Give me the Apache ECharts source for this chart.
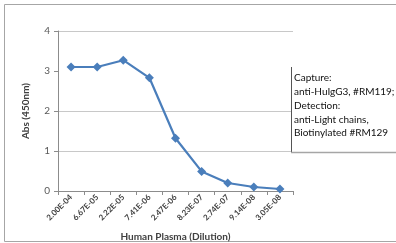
<!DOCTYPE html>
<html>
<head>
<meta charset="utf-8">
<script src="https://cdn.jsdelivr.net/npm/echarts@6/dist/echarts.min.js"></script>
<style>
    html, body {margin: 0; padding: 0; background: #fff;}
    #main {width: 396px; height: 243px;}
</style>
</head>
<body>
<div id="main"></div>
<script>
// dilutions on x axis
var dilutions = ['2.00E-04', '6.67E-05', '2.22E-05', '7.41E-06', '2.47E-06', '8.23E-07', '2.74E-07', '9.14E-08', '3.05E-08'];
// absorbance at 450nm
var absValues = [3.10, 3.10, 3.27, 2.83, 1.32, 0.49, 0.20, 0.10, 0.05];
var yTicks = [0, 1, 2, 3, 4];
var noteLines = ['Capture:', 'anti-HuIgG3, #RM119;', 'Detection:', 'anti-Light chains,', 'Biotinylated #RM129'];

var font = 'Lato, "Open Sans", sans-serif';

var chart = echarts.init(document.getElementById('main'));

var option = {
    animation: false,
    backgroundColor: '#fff',
    grid: {left: 58, right: 103, top: 31, bottom: 52, containLabel: false, outerBoundsMode: 'none'},
    xAxis: {
        type: 'category',
        data: dilutions,
        boundaryGap: true,
        name: 'Human Plasma (Dilution)',
        nameLocation: 'middle',
        nameGap: 41,
        nameTextStyle: {fontFamily: font, fontSize: 10, fontWeight: 'bold', color: '#404040'},
        axisLine: {lineStyle: {color: '#8c8c8c'}},
        axisTick: {show: true, interval: 0, length: 4, lineStyle: {color: '#8c8c8c'}},
        axisLabel: {rotate: 45, interval: 0, fontFamily: font, fontSize: 8, fontWeight: 'bold', color: '#404040', margin: 5}
    },
    yAxis: {
        type: 'value',
        min: yTicks[0],
        max: yTicks[yTicks.length - 1],
        interval: 1,
        name: 'Abs (450nm)',
        nameLocation: 'middle',
        nameGap: 27,
        nameTextStyle: {fontFamily: font, fontSize: 10, fontWeight: 'bold', color: '#404040'},
        axisLine: {show: true, lineStyle: {color: '#8c8c8c'}},
        axisTick: {show: true, length: 4, lineStyle: {color: '#8c8c8c'}},
        axisLabel: {fontFamily: font, fontSize: 10, color: '#595959', margin: 8},
        splitLine: {show: true, lineStyle: {color: '#c8c8c8'}}
    },
    series: [
        {
            type: 'line',
            data: absValues,
            symbol: 'diamond',
            symbolSize: 9,
            lineStyle: {color: '#4a7ebb', width: 2.2},
            itemStyle: {color: '#4a7ebb'}
        }
    ],
    graphic: [
        // outer frame
        {type: 'rect', shape: {x: 4.5, y: 4.5, width: 400, height: 237}, style: {fill: 'none', stroke: '#a6a6a6', lineWidth: 1}, z: 0},
        // hide the gridline at 3, it is not in the original
        {type: 'rect', shape: {x: 59, y: 70, width: 234, height: 2}, style: {fill: '#fff'}, z: 1},
        // note box
        {type: 'rect', shape: {x: 291, y: 67, width: 120, height: 85}, style: {fill: '#fff', stroke: 'none'}, z: 5},
        {type: 'line', shape: {x1: 291.5, y1: 67, x2: 291.5, y2: 152}, style: {stroke: '#555', lineWidth: 1}, z: 6},
        {type: 'line', shape: {x1: 291, y1: 152.5, x2: 396, y2: 152.5}, style: {stroke: '#a6a6a6', lineWidth: 1.5}, z: 6},
        {
            type: 'text',
            left: 294,
            top: 71,
            z: 7,
            style: {
                text: noteLines.join('\n'),
                fontFamily: font,
                fontSize: 10,
                lineHeight: 13.8,
                fill: '#111'
            }
        }
    ]
};

chart.setOption(option);
</script>
</body>
</html>
